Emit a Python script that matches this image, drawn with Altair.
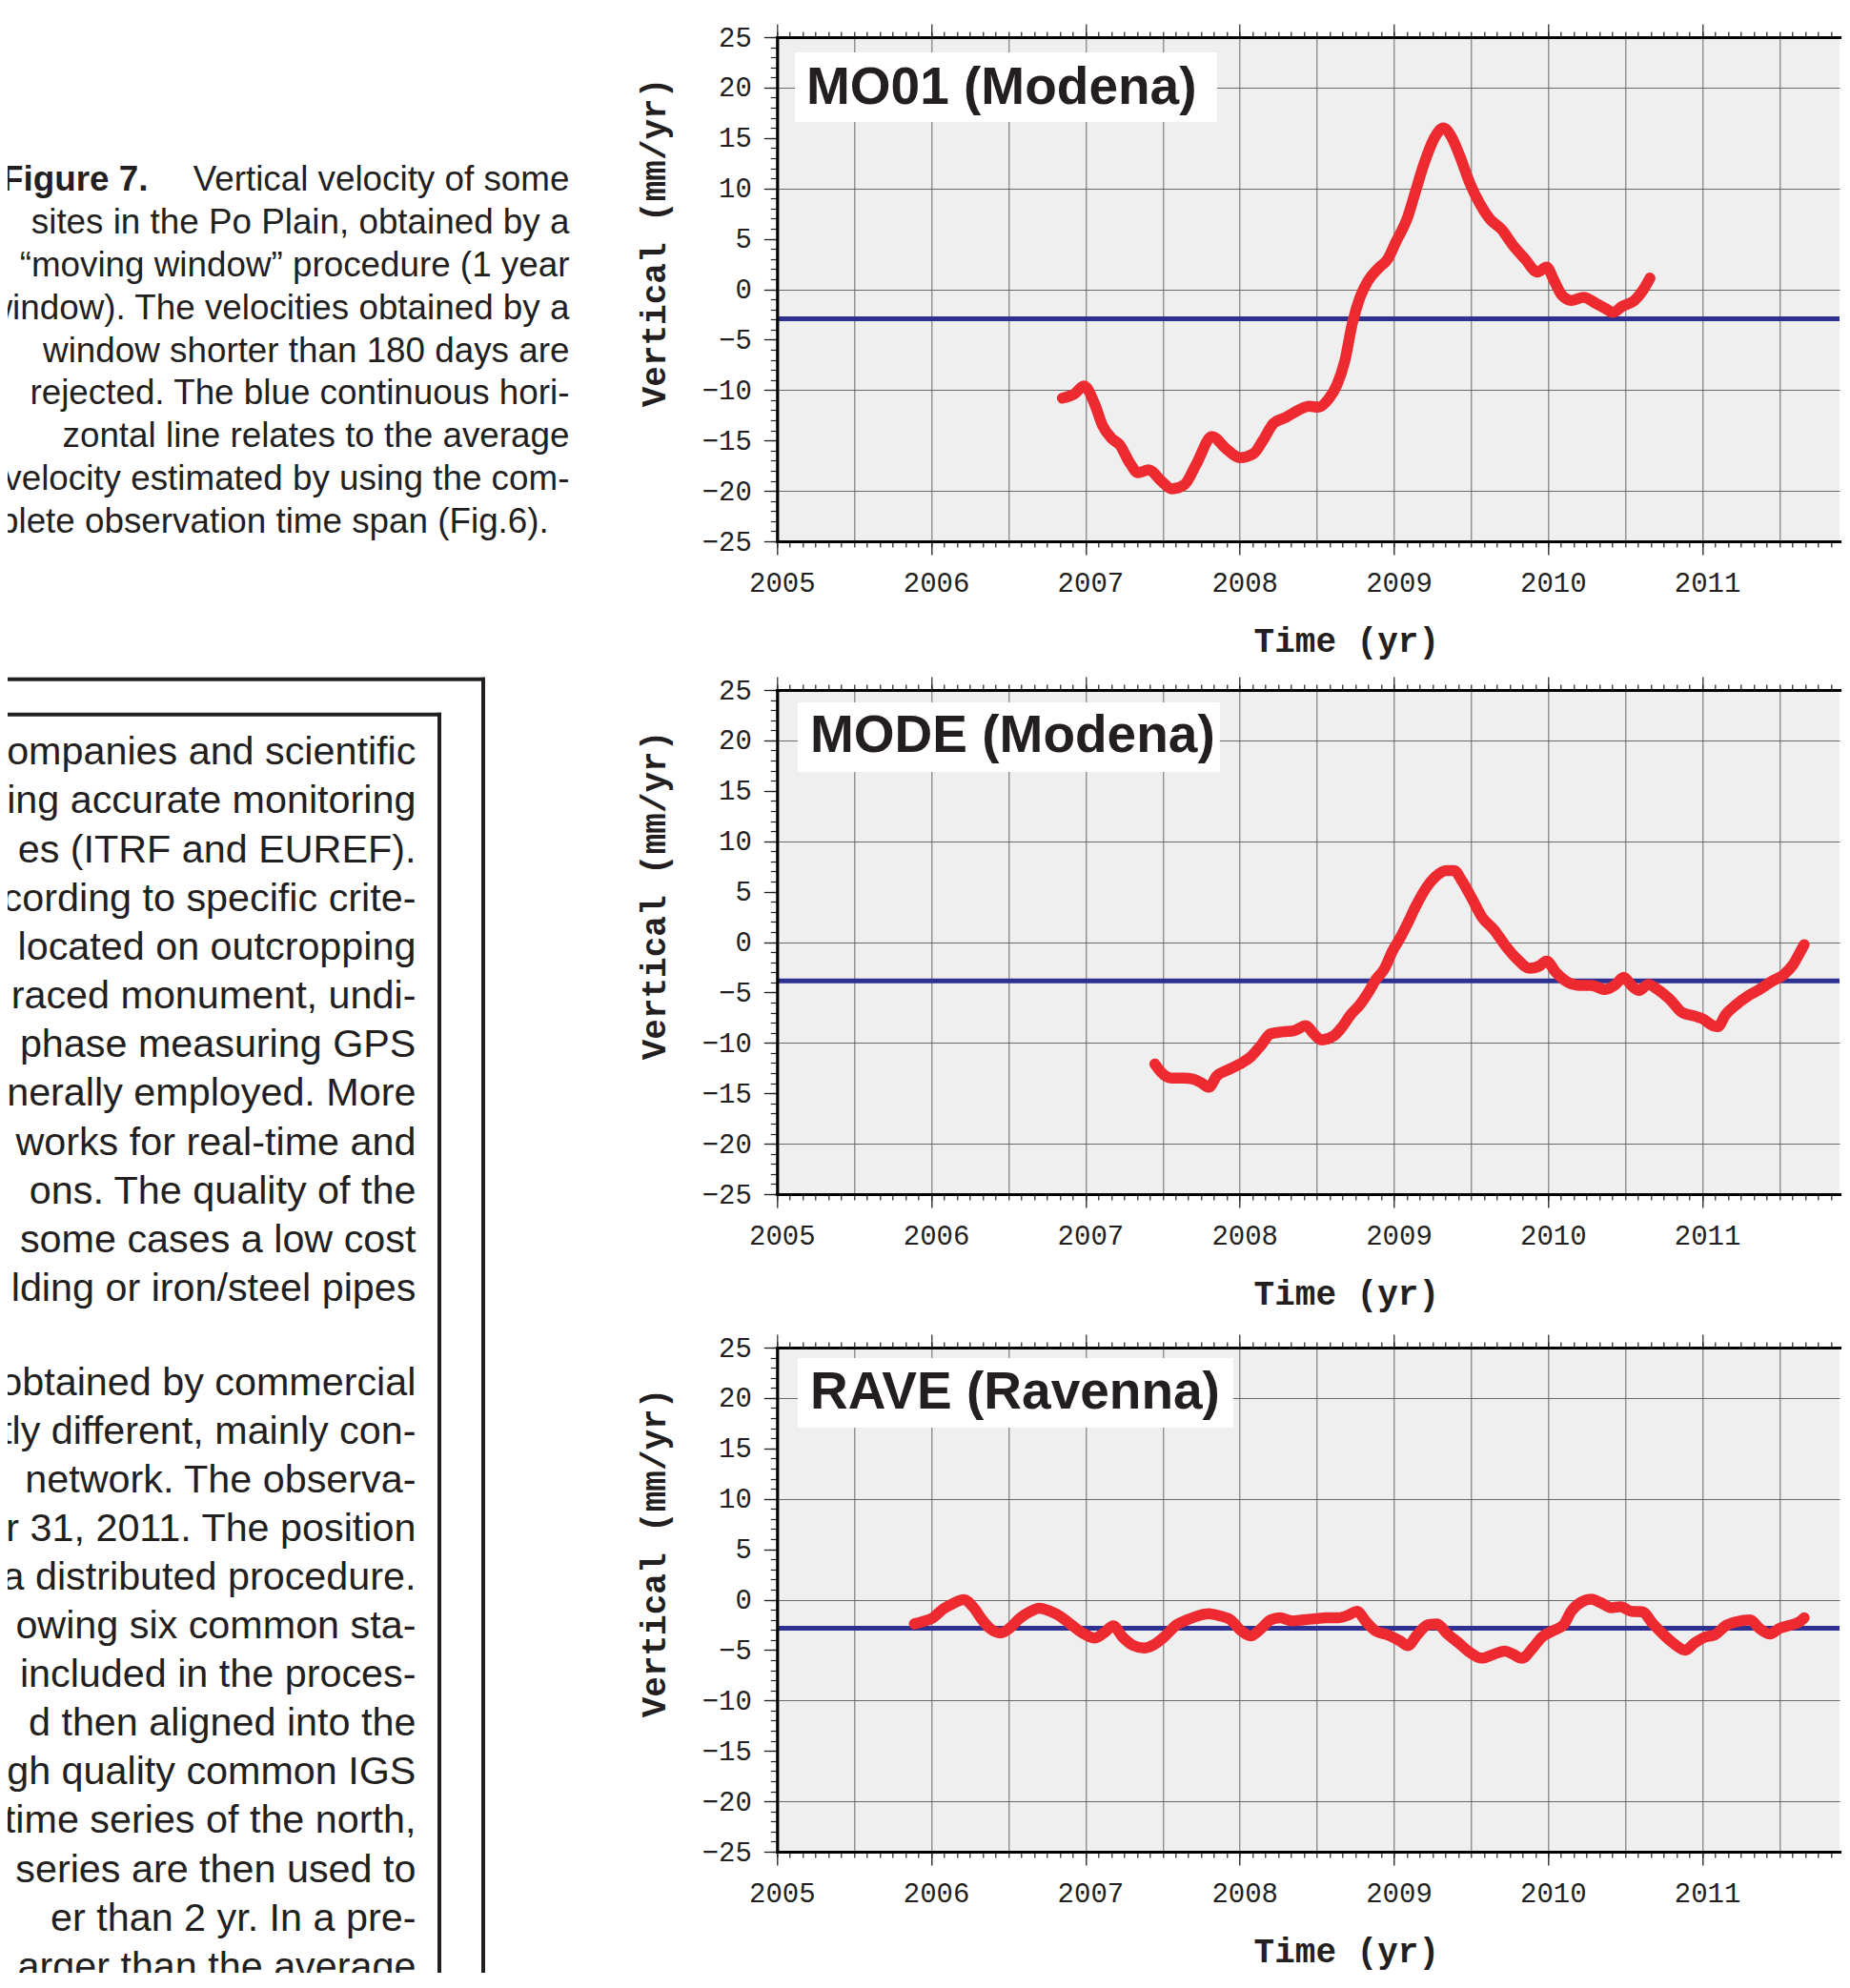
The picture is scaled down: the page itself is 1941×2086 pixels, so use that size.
import altair as alt
import pandas as pd

# ---------------- data ----------------
MO01_YEAR = [2006.85, 2006.93, 2006.99, 2007.06, 2007.11, 2007.17, 2007.22, 2007.29, 2007.34, 2007.41,
             2007.49, 2007.56, 2007.64, 2007.72, 2007.82, 2007.91,
             2008.00, 2008.09, 2008.15, 2008.22, 2008.30, 2008.38, 2008.45, 2008.51, 2008.58, 2008.63,
             2008.68, 2008.73, 2008.78, 2008.83, 2008.90, 2008.96,
             2009.01, 2009.09, 2009.14, 2009.19, 2009.27, 2009.32, 2009.37, 2009.43, 2009.49, 2009.56,
             2009.62, 2009.70, 2009.77, 2009.85, 2009.93, 2009.99,
             2010.04, 2010.09, 2010.15, 2010.23, 2010.31, 2010.37, 2010.42, 2010.48, 2010.56, 2010.61, 2010.66]
MO01_VEL = [-10.8, -10.35, -9.6, -11.4, -13.5, -14.8, -15.4, -17.3, -18.2, -17.9,
            -19.0, -19.8, -19.4, -17.3, -14.6, -15.8,
            -16.7, -16.3, -15.0, -13.3, -12.7, -12.0, -11.6, -11.7, -10.8, -9.5,
            -7.2, -3.4, -0.8, 0.8, 2.1, 3.0,
            4.6, 7.2, 9.7, 12.2, 15.2, 16.0, 15.2, 13.1, 10.6, 8.4,
            7.0, 5.9, 4.4, 3.0, 1.7, 2.2,
            0.8, -0.6, -1.1, -0.8, -1.4, -1.9, -2.3, -1.7, -1.1, -0.2, 1.1]
MO01_AVG = -2.93

MODE_YEAR = [2007.45, 2007.49, 2007.56, 2007.64, 2007.70, 2007.75, 2007.80, 2007.85, 2007.92,
             2008.00, 2008.07, 2008.14, 2008.20, 2008.28, 2008.35, 2008.43, 2008.48, 2008.53, 2008.61,
             2008.66, 2008.72, 2008.78, 2008.83, 2008.88, 2008.94, 2008.99,
             2009.04, 2009.09, 2009.14, 2009.21, 2009.27, 2009.34, 2009.39, 2009.44, 2009.51, 2009.57,
             2009.65, 2009.72, 2009.80, 2009.88, 2009.94, 2009.99,
             2010.05, 2010.13, 2010.21, 2010.28, 2010.37, 2010.43, 2010.49, 2010.54, 2010.59, 2010.65,
             2010.71, 2010.79, 2010.87, 2010.94,
             2011.00, 2011.07, 2011.10, 2011.15, 2011.22, 2011.30, 2011.37, 2011.45, 2011.53, 2011.59,
             2011.63, 2011.66]
MODE_VEL = [-12.1, -12.9, -13.5, -13.5, -13.6, -13.95, -14.4, -13.3, -12.7,
            -12.1, -11.4, -10.2, -9.1, -8.9, -8.8, -8.3, -9.1, -9.7, -9.3,
            -8.5, -7.2, -6.2, -5.1, -3.8, -2.6, -0.9,
            0.4, 1.9, 3.5, 5.4, 6.5, 7.1, 7.1, 6.1, 4.2, 2.5,
            1.2, -0.3, -1.7, -2.6, -2.4, -1.9,
            -3.0, -4.0, -4.3, -4.3, -4.7, -4.3, -3.5, -4.3, -4.8, -4.2,
            -4.7, -5.7, -7.0, -7.3,
            -7.6, -8.3, -8.4, -7.2, -6.2, -5.3, -4.7, -3.9, -3.2, -2.2,
            -1.1, -0.25]
MODE_AVG = -3.85

RAVE_YEAR = [2005.89, 2005.94, 2006.01, 2006.08, 2006.14, 2006.21, 2006.27, 2006.33, 2006.38, 2006.45,
             2006.51, 2006.57, 2006.64, 2006.70, 2006.77, 2006.83, 2006.90, 2006.98,
             2007.06, 2007.12, 2007.18, 2007.24, 2007.31, 2007.38, 2007.44, 2007.51, 2007.59, 2007.66,
             2007.73, 2007.80, 2007.87, 2007.94,
             2008.01, 2008.07, 2008.14, 2008.20, 2008.26, 2008.34, 2008.41, 2008.49, 2008.56, 2008.64,
             2008.71, 2008.76, 2008.82, 2008.88, 2008.96,
             2009.04, 2009.09, 2009.15, 2009.22, 2009.28, 2009.34, 2009.42, 2009.49, 2009.57, 2009.65,
             2009.72, 2009.77, 2009.83, 2009.90, 2009.96,
             2010.03, 2010.10, 2010.15, 2010.22, 2010.28, 2010.34, 2010.41, 2010.47, 2010.54, 2010.61,
             2010.68, 2010.75, 2010.81, 2010.89, 2010.95,
             2011.02, 2011.08, 2011.15, 2011.22, 2011.31, 2011.37, 2011.44, 2011.50, 2011.58, 2011.63,
             2011.66]
RAVE_VEL = [-2.4, -2.2, -1.8, -0.9, -0.4, 0.0, -0.7, -2.0, -2.85, -3.3,
            -2.8, -1.9, -1.2, -0.85, -1.15, -1.6, -2.4, -3.3,
            -3.8, -3.3, -2.6, -3.7, -4.55, -4.8, -4.5, -3.7, -2.5, -2.0,
            -1.6, -1.4, -1.6, -2.0,
            -3.1, -3.6, -2.85, -2.0, -1.8, -2.1, -2.0, -1.9, -1.8, -1.8,
            -1.5, -1.15, -2.2, -3.1, -3.5,
            -4.1, -4.55, -3.5, -2.5, -2.4, -3.3, -4.3, -5.2, -5.8, -5.4,
            -5.1, -5.4, -5.8, -4.8, -3.7,
            -3.1, -2.5, -1.15, -0.2, 0.05, -0.3, -0.8, -0.7, -1.15, -1.2,
            -2.4, -3.5, -4.3, -5.0, -4.3,
            -3.7, -3.5, -2.6, -2.2, -2.0, -2.85, -3.4, -2.85, -2.5, -2.2,
            -1.8]
RAVE_AVG = -2.84

PANEL_NAMES = ["MO01 (Modena)", "MODE (Modena)", "RAVE (Ravenna)"]
X_TITLE = "Time (yr)"
Y_TITLE = "Vertical (mm/yr)"

CAPTION_LEAD = "Figure 7."
CAPTION_LINES = [
    "Vertical velocity of some",
    "sites in the Po Plain, obtained by a",
    "“moving window” procedure (1 year",
    "window). The velocities obtained by a",
    "window shorter than 180 days are",
    "rejected. The blue continuous hori-",
    "zontal line relates to the average",
    "velocity estimated by using the com-",
]
CAPTION_LAST = "plete observation time span (Fig.6)."

BODY_BLOCK_1 = [
    "ompanies and scientific",
    "ing accurate monitoring",
    "es (ITRF and EUREF).",
    "cording to specific crite-",
    "located on outcropping",
    "raced monument, undi-",
    "phase measuring GPS",
    "nerally employed. More",
    "works for real-time and",
    "ons. The quality of the",
    "n some cases a low cost",
    "lding or iron/steel pipes",
]
BODY_BLOCK_2 = [
    "obtained by commercial",
    "tly different, mainly con-",
    "network. The observa-",
    "r 31, 2011. The position",
    "a distributed procedure.",
    "owing six common sta-",
    "included in the proces-",
    "d then aligned into the",
    "gh quality common IGS",
    "time series of the north,",
    "series are then used to",
    "er than 2 yr. In a pre-",
    "arger than the average",
]

assert len(MO01_YEAR) == len(MO01_VEL)
assert len(MODE_YEAR) == len(MODE_VEL)
assert len(RAVE_YEAR) == len(RAVE_VEL)

# ---------------- styling / layout ----------------
RED = "#ec2a30"
BLUE = "#2e3192"
INK = "#231f20"
BG = "#efefef"
GRID = "#5a5a5a"
MONO = "Liberation Mono"
SANS = "Liberation Sans"

PX_PER_YEAR = 161.8
PLOT_W = 1114.7
PLOT_H = 529
X_DOMAIN = [2005, 2005 + PLOT_W / PX_PER_YEAR]
Y_DOMAIN = [-25, 25]

YEAR_TICKS = list(range(2005, 2012))
MONTH_TICKS = [round(2005 + k / 12, 4) for k in range(0, 83)]
HALF_YEAR_GRID = [2005 + 0.5 * k for k in range(1, 14)]
Y_MAJOR = list(range(-25, 26, 5))
Y_MINOR = list(range(-25, 26))
Y_GRID = [-20, -10, 0, 10, 20]


def tick_axis(orient, values, size, domain=False):
    kw = dict(orient=orient, values=values, tickSize=size, ticks=True, tickColor=INK,
              tickWidth=1.2, labels=False, grid=False, title=None, zindex=1, domain=domain)
    if domain:
        kw.update(domainColor="#000000", domainWidth=3.2, domainCap="square")
    return alt.Axis(**kw)


def grid_axis(orient, values):
    return alt.Axis(orient=orient, values=values, grid=True, gridColor=GRID, gridWidth=1,
                    gridOpacity=0.9, ticks=False, labels=False, domain=False, title=None, zindex=0)


def panel(name, years, vals, avg, box, text_xy):
    df = pd.DataFrame({"year": years, "vel": vals})
    xs = alt.Scale(domain=X_DOMAIN, nice=False, zero=False)
    ys = alt.Scale(domain=Y_DOMAIN, nice=False, zero=False)

    x_bottom = alt.Axis(
        orient="bottom", values=YEAR_TICKS, format="d", tickSize=14, tickColor=INK, tickWidth=1.3,
        labelFont=MONO, labelFontSize=29, labelColor=INK, labelPadding=29.5, labelBaseline="middle",
        labelOffset=5, labelFlush=False, labelOverlap=False, labelBound=False,
        domain=True, domainColor="#000000", domainWidth=3.2, domainCap="square", grid=False,
        title=X_TITLE, titleFont=MONO, titleFontSize=36, titleFontWeight="bold", titleColor=INK,
        titleX=597, titleY=104.5, titleAlign="center", titleBaseline="middle", zindex=1)
    y_left = alt.Axis(
        orient="left", values=Y_MAJOR, tickSize=14, tickColor=INK, tickWidth=1.3,
        labelFont=MONO, labelFontSize=29, labelColor=INK, labelPadding=13,
        labelFlush=False, labelOverlap=False, labelBound=False,
        domain=True, domainColor="#000000", domainWidth=3.2, domainCap="square", grid=False,
        title=Y_TITLE, titleFont=MONO, titleFontSize=36, titleFontWeight="bold", titleColor=INK,
        titleX=-129, titleY=215, titleAngle=270, titleAlign="center", titleBaseline="middle", zindex=1)

    base = alt.Chart(df)
    grid_layer = base.mark_point(opacity=0).encode(
        x=alt.X("year:Q", scale=xs, axis=grid_axis("bottom", HALF_YEAR_GRID)),
        y=alt.Y("vel:Q", scale=ys, axis=grid_axis("left", Y_GRID)))
    minor_layer = base.mark_point(opacity=0).encode(
        x=alt.X("year:Q", scale=xs, axis=tick_axis("bottom", MONTH_TICKS, 6)),
        y=alt.Y("vel:Q", scale=ys, axis=tick_axis("left", Y_MINOR, 7)))
    top_major = base.mark_point(opacity=0).encode(
        x=alt.X("year:Q", scale=xs, axis=tick_axis("top", YEAR_TICKS, 14, domain=True)),
        y=alt.Y("vel:Q", scale=ys, axis=None))
    top_minor = base.mark_point(opacity=0).encode(
        x=alt.X("year:Q", scale=xs, axis=tick_axis("top", MONTH_TICKS, 6)),
        y=alt.Y("vel:Q", scale=ys, axis=None))

    avg_rule = alt.Chart(pd.DataFrame({"avg": [avg]})).mark_rule(
        color=BLUE, strokeWidth=5).encode(y=alt.Y("avg:Q", scale=ys, axis=None))

    curve = base.mark_line(color=RED, strokeWidth=11.5, strokeCap="round", strokeJoin="round",
                           interpolate="monotone").encode(
        x=alt.X("year:Q", scale=xs, axis=x_bottom),
        y=alt.Y("vel:Q", scale=ys, axis=y_left))

    lab_df = pd.DataFrame({"label": [name]})
    box_layer = alt.Chart(lab_df).mark_rect(color="white").encode(
        x=alt.value(box[0]), x2=alt.value(box[1]), y=alt.value(box[2]), y2=alt.value(box[3]))
    text_layer = alt.Chart(lab_df).mark_text(
        align="left", baseline="alphabetic", font=SANS, fontWeight="bold", fontSize=55, color=INK).encode(
        text="label:N", x=alt.value(text_xy[0]), y=alt.value(text_xy[1]))

    return alt.layer(grid_layer, minor_layer, top_major, top_minor, avg_rule, curve,
                     box_layer, text_layer).resolve_axis(
        x="independent", y="independent").properties(
        width=PLOT_W, height=PLOT_H, view=alt.ViewBackground(fill=BG, strokeWidth=0))


p1 = panel(PANEL_NAMES[0], MO01_YEAR, MO01_VEL, MO01_AVG, (18.7, 461.7, 16, 89), (30.7, 70))
p2 = panel(PANEL_NAMES[1], MODE_YEAR, MODE_VEL, MODE_AVG, (21.6, 464.5, 13, 86), (34.7, 65))
p3 = panel(PANEL_NAMES[2], RAVE_YEAR, RAVE_VEL, RAVE_AVG, (21.6, 478.5, 11, 84), (34.7, 64))

# ---------------- left text column ----------------
LEFT_W = 600
LEFT_H = 2031
CAP_SIZE = 36.8
BODY_SIZE = 41.3

cap_scale = alt.Scale(domain=[0, 8], range=[150, 509])
b1_scale = alt.Scale(domain=[0, len(BODY_BLOCK_1) - 1], range=[751.3, 751.3 + 11 * 51.15])
b2_scale = alt.Scale(domain=[0, len(BODY_BLOCK_2) - 1], range=[1412.5, 1412.5 + 12 * 51.1])

cap_df = pd.DataFrame({"line": CAPTION_LINES, "k": list(range(len(CAPTION_LINES)))})
cap_text = alt.Chart(cap_df).mark_text(
    align="right", baseline="middle", font=SANS, fontSize=CAP_SIZE, color=INK, clip=True).encode(
    text="line:N", x=alt.value(589.4), y=alt.Y("k:Q", scale=cap_scale, axis=None))
lead_text = alt.Chart(pd.DataFrame({"line": [CAPTION_LEAD], "k": [0]})).mark_text(
    align="left", baseline="middle", font=SANS, fontSize=CAP_SIZE, fontWeight="bold", color=INK,
    clip=True).encode(text="line:N", x=alt.value(-6), y=alt.Y("k:Q", scale=cap_scale, axis=None))
last_text = alt.Chart(pd.DataFrame({"line": [CAPTION_LAST], "k": [8]})).mark_text(
    align="left", baseline="middle", font=SANS, fontSize=CAP_SIZE, color=INK, clip=True).encode(
    text="line:N", x=alt.value(-9), y=alt.Y("k:Q", scale=cap_scale, axis=None))

b1_df = pd.DataFrame({"line": BODY_BLOCK_1, "k": list(range(len(BODY_BLOCK_1)))})
b2_df = pd.DataFrame({"line": BODY_BLOCK_2, "k": list(range(len(BODY_BLOCK_2)))})
b1_text = alt.Chart(b1_df).mark_text(
    align="right", baseline="middle", font=SANS, fontSize=BODY_SIZE, color=INK, clip=True).encode(
    text="line:N", x=alt.value(428.4), y=alt.Y("k:Q", scale=b1_scale, axis=None))
b2_text = alt.Chart(b2_df).mark_text(
    align="right", baseline="middle", font=SANS, fontSize=BODY_SIZE, color=INK, clip=True).encode(
    text="line:N", x=alt.value(428.4), y=alt.Y("k:Q", scale=b2_scale, axis=None))

frame_df = pd.DataFrame({"part": ["frame"]})
outer_top = alt.Chart(frame_df).mark_rule(color=INK, strokeWidth=4, clip=True).encode(
    x=alt.value(0), x2=alt.value(501), y=alt.value(673.7))
outer_right = alt.Chart(frame_df).mark_rule(color=INK, strokeWidth=4, clip=True).encode(
    x=alt.value(499), y=alt.value(671.7), y2=alt.value(LEFT_H))
inner_top = alt.Chart(frame_df).mark_rule(color=INK, strokeWidth=4, clip=True).encode(
    x=alt.value(0), x2=alt.value(455), y=alt.value(710.7))
inner_right = alt.Chart(frame_df).mark_rule(color=INK, strokeWidth=4, clip=True).encode(
    x=alt.value(453), y=alt.value(708.7), y2=alt.value(LEFT_H))

left = alt.layer(cap_text, lead_text, last_text, b1_text, b2_text,
                 outer_top, outer_right, inner_top, inner_right).resolve_scale(
    y="independent").properties(width=LEFT_W, height=LEFT_H)

right = alt.vconcat(p1, alt.vconcat(p2, p3, spacing=161, bounds="flush"),
                    spacing=156, bounds="flush")

chart = alt.hconcat(left, right, spacing=207.3, bounds="flush").properties(
    padding={"left": 0, "top": 16, "right": 0, "bottom": 0}
).configure_view(strokeWidth=0)

chart.save("out.html", embed_options={"renderer": "svg", "actions": False})
